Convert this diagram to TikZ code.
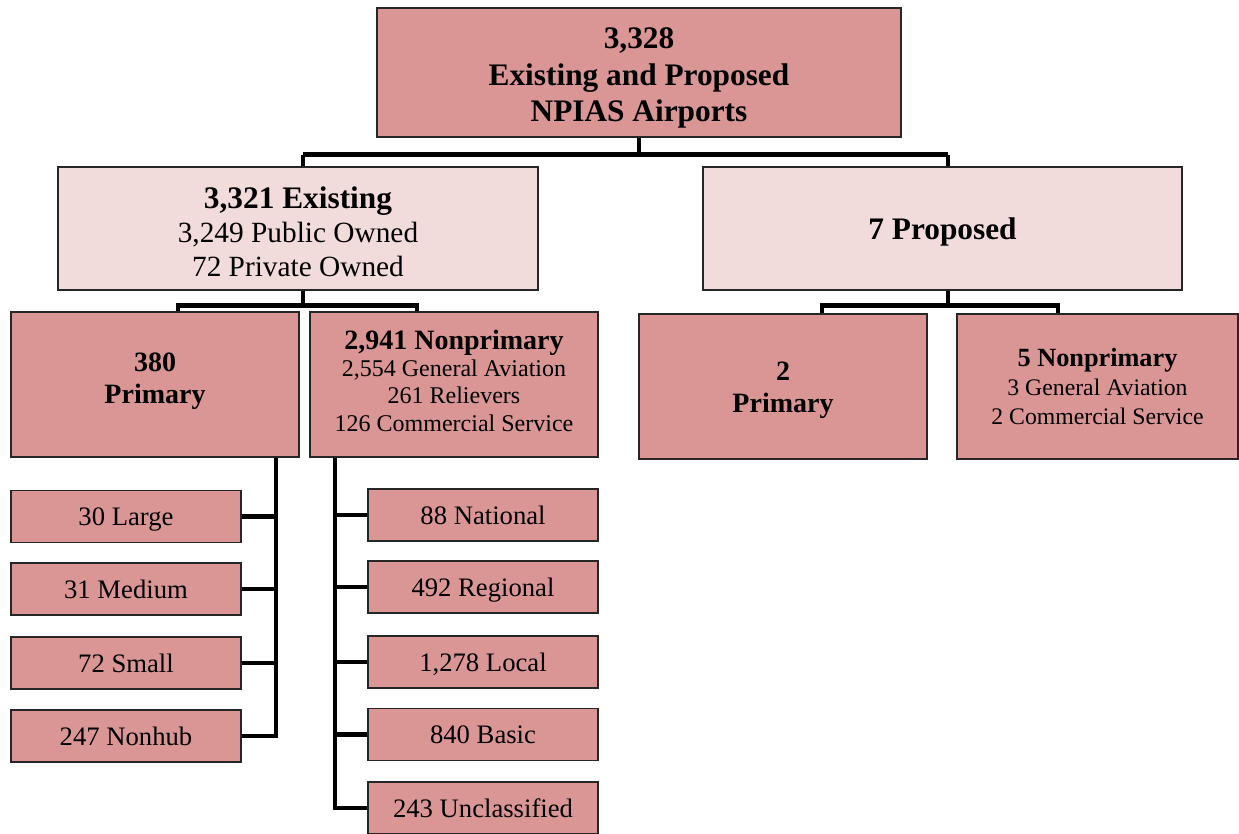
\documentclass[tikz,border=0pt]{standalone}
\usepackage{fontspec}
\setmainfont{Liberation Serif}
\usepackage{xcolor}
\usetikzlibrary{calc}
\definecolor{darkc}{RGB}{217,150,148}
\definecolor{lightc}{RGB}{242,220,219}

\begin{document}
\begin{tikzpicture}[x=0.75pt, y=-0.75pt,
  box/.style={draw=black!85, line width=0.9pt, fill=darkc, align=center, inner sep=0pt},
  lbox/.style={box, fill=lightc},
  leaf/.style={box, minimum width=172.5pt, minimum height=39pt, text height=18pt, text depth=4pt,
               font=\fontsize{20}{24}\selectfont},
  link/.style={line width=3.6pt, black},
]
\useasboundingbox (0,0) rectangle (1239,833);

% top
\node[box, minimum width=393pt, minimum height=96.75pt,
      font=\fontsize{23.5}{27.4}\selectfont\bfseries] (all) at (639,72.5)
  {\rule{0pt}{24pt}3,328\\Existing and Proposed\\NPIAS Airports};

% Row 1: existing / proposed
\node[lbox, minimum width=360pt, minimum height=92.25pt,
      font=\fontsize{22}{25.5}\selectfont] (exist) at (298,228.5)
  {{\bfseries\fontsize{23.5}{25.5}\selectfont\rule{0pt}{21pt}3,321 Existing}\\3,249 Public Owned\\72 Private Owned};
\node[lbox, minimum width=359.25pt, minimum height=92.25pt,
      font=\fontsize{23.5}{27}\selectfont\bfseries] (prop) at (942.5,228.5)
  {\rule{0pt}{22pt}7 Proposed};

% Row 2: primary / nonprimary
\node[box, minimum width=216pt, minimum height=108.75pt,
      font=\fontsize{21}{24}\selectfont\bfseries] (prim) at (155,384.5)
  {380\\Primary\rule[-9pt]{0pt}{9pt}};
\node[box, minimum width=216pt, minimum height=108.75pt,
      font=\fontsize{18}{20.6}\selectfont] (nonprim) at (454,384.5)
  {{\bfseries\fontsize{21}{20.6}\selectfont 2,941 Nonprimary}\\2,554 General Aviation\\261 Relievers\\126 Commercial Service\rule[-6pt]{0pt}{6pt}};
\node[box, minimum width=216pt, minimum height=108.75pt,
      font=\fontsize{21}{24}\selectfont\bfseries] (pprim) at (783,386.5)
  {\rule{0pt}{19pt}2\\Primary};
\node[box, minimum width=210.75pt, minimum height=108.75pt,
      font=\fontsize{17.8}{21.4}\selectfont] (pnonprim) at (1097.5,386.5)
  {{\bfseries\fontsize{19.7}{21.4}\selectfont 5 Nonprimary}\\3 General Aviation\\2 Commercial Service};

% primary hubs
\node[leaf] (large)  at (126,516.5) {30 Large};
\node[leaf] (medium) at (126,589)   {31 Medium};
\node[leaf] (small)  at (126,663)   {72 Small};
\node[leaf] (nonhub) at (126,736)   {247 Nonhub};

% nonprimary classes
\node[leaf] (natl)  at (483,515)   {88 National};
\node[leaf] (regl)  at (483,587)   {492 Regional};
\node[leaf] (local) at (483,662)   {1,278 Local};
\node[leaf] (basic) at (483,734.5) {840 Basic};
\node[leaf] (uncl)  at (483,808)   {243 Unclassified};

% connectors
\draw[link] (all.south) -- ++(0,17) coordinate (t1)
  (t1 -| exist.north) ++(5,0) -- ($(t1 -| prop.north)+(5.5,0)$);
\draw[link] ($(t1 -| exist.north)+(5,0)$) -- ($(exist.north)+(5,0)$);
\draw[link] ($(t1 -| prop.north)+(5.5,0)$) -- ($(prop.north)+(5.5,0)$);

\draw[link] ($(exist.south)+(5,0)$) -- ++(0,15) coordinate (t2);
\draw[link] ($(prim.north)+(23,0)$) |- (t2) -| ($(nonprim.north)+(-37,0)$);

\draw[link] ($(prop.south)+(5.5,0)$) -- ++(0,15) coordinate (t3);
\draw[link] ($(pprim.north)+(39,0)$) |- (t3) -| ($(pnonprim.north)+(-39.5,0)$);

% left tree
\draw[link] ($(prim.south)+(121,0)$) coordinate (l0) -- (l0 |- nonhub.east) -- (nonhub.east);
\foreach \n in {large, medium, small}
  \draw[link] (\n.east) -- (\n.east -| l0);

% right tree
\draw[link] ($(nonprim.south)+(-119,0)$) coordinate (r0) -- (r0 |- uncl.west) -- (uncl.west);
\foreach \n in {natl, regl, local, basic}
  \draw[link] (\n.west) -- (\n.west -| r0);

\end{tikzpicture}
\end{document}
